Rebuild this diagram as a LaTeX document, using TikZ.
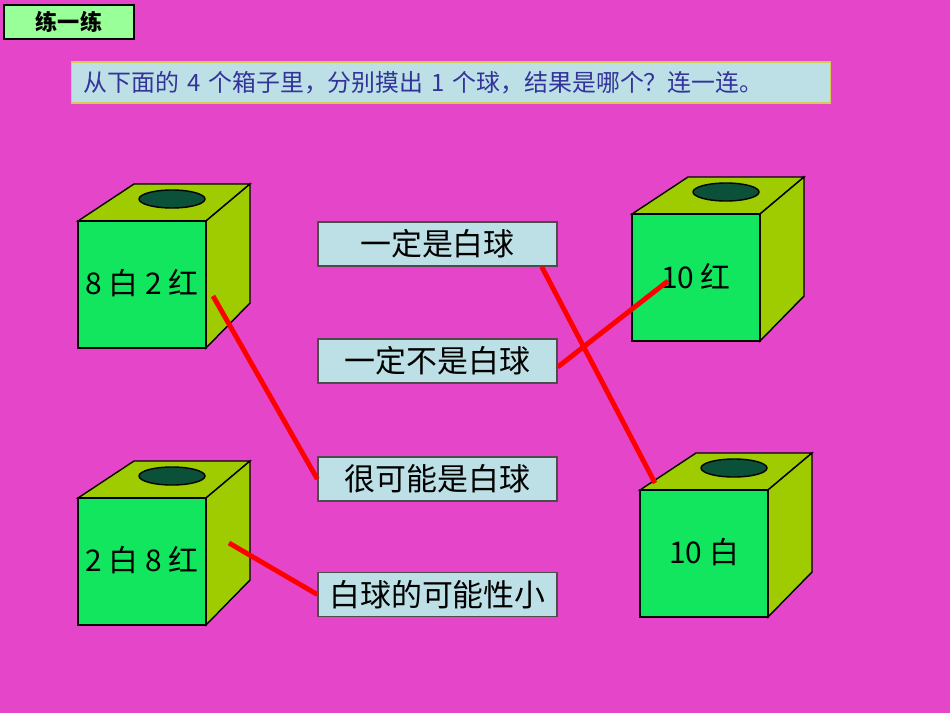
\documentclass[tikz,border=0pt]{standalone}
\usepackage{fontspec}
\setmainfont{Noto Sans CJK SC}
\definecolor{bgpink}{HTML}{E545C8}
\definecolor{frontgreen}{HTML}{12E65E}
\definecolor{sidegreen}{HTML}{9ECC00}
\definecolor{holegreen}{HTML}{0B5038}
\definecolor{cardblue}{HTML}{BDE0E6}
\definecolor{textblue}{HTML}{333399}
\tikzset{
  card/.style={draw=black!70,fill=cardblue,minimum width=2.39cm,minimum height=0.44cm,inner sep=0pt,font=\fontsize{8.8}{9}\selectfont},
  link/.style={red,line width=1.4pt}
}
% one box: front lower-left x, front top y (in px/100)
\newcommand{\tissuebox}[4]{%
  \filldraw[fill=sidegreen] (#1,-#2) -- (#1+0.56,-#2+0.37) -- (#1+1.72,-#2+0.37) -- (#1+1.28,-#2) -- cycle;
  \filldraw[fill=sidegreen] (#1+1.28,-#2) -- (#1+1.72,-#2+0.37) -- (#1+1.72,-#2-0.82) -- (#1+1.28,-#2-1.27) -- cycle;
  \filldraw[fill=frontgreen] (#1,-#2) rectangle (#1+1.28,-#2-1.27);
  \filldraw[fill=holegreen] (#1+0.94,-#2+0.22) ellipse (0.33 and 0.09);
  \node[font=\fontsize{8.5}{9}\selectfont] (#3) at (#1+0.64,-#2-0.62) {#4};
}
\begin{document}
\begin{tikzpicture}
\useasboundingbox[fill=bgpink] (0,0) rectangle (9.5,-7.13);
\node[draw,fill=green!40,minimum width=1.3cm,minimum height=0.34cm,inner sep=0pt,font=\bfseries\fontsize{6.3}{7}\selectfont] (title) at (0.69,-0.22) {练一练};
\node[draw=yellow!60!gray,fill=cardblue,text=textblue,text width=7.59cm,minimum height=0.41cm,inner sep=0pt,anchor=west,font=\fontsize{6.8}{7}\selectfont] (task) at (0.71,-0.825) {\hspace{0.12cm}从下面的 4 个箱子里，分别摸出 1 个球，结果是哪个？连一连。};
\tissuebox{0.78}{2.21}{boxa}{8 白 2 红}
\tissuebox{0.78}{4.98}{boxb}{2 白 8 红}
\tissuebox{6.32}{2.14}{boxc}{10 红}
\tissuebox{6.40}{4.90}{boxd}{10 白}
\node[card] (sure) at (4.375,-2.44) {一定是白球};
\node[card] (never) at (4.375,-3.61) {一定不是白球};
\node[card] (likely) at (4.375,-4.79) {很可能是白球};
\node[card] (unlikely) at (4.375,-5.945) {白球的可能性小};
\coordinate (pa) at (2.13,-2.96);
\coordinate (pb) at (2.29,-5.43);
\coordinate (pc) at (6.68,-2.81);
\coordinate (pd) at (6.55,-4.83);
\draw[link] (pa) -- (likely.west);
\draw[link] (pb) -- (unlikely.west);
\draw[link] ([yshift=-0.06cm]never.east) -- (pc);
\draw[link] ([xshift=-0.16cm]sure.south east) -- (pd);
\end{tikzpicture}
\end{document}
